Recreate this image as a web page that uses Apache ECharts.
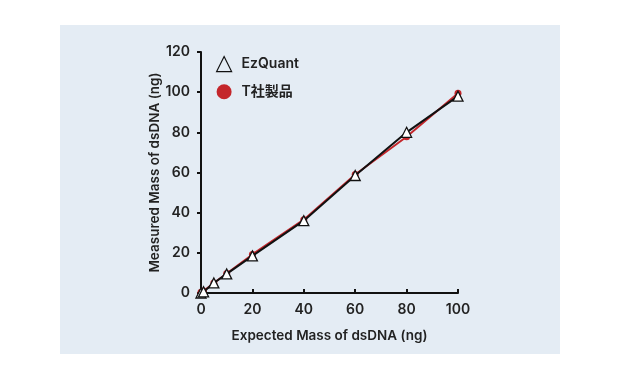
<!DOCTYPE html>
<html><head><meta charset="utf-8">
<script src="https://cdn.jsdelivr.net/npm/echarts@6/dist/echarts.min.js"></script>
<style>html,body{margin:0;padding:0;background:#fff}#c{width:621px;height:381px}</style>
</head><body><div id="c"></div>
<script>
const expected = [0, 1, 5, 10, 20, 40, 60, 80, 100];
const ezQuant = [0, 0.6, 5, 9.5, 18.5, 36, 58.5, 80, 98];
const tProduct = [0.4, 1, 5, 9.7, 19.2, 36.5, 59, 77.8, 99.5];
const seriesNames = ['EzQuant', 'T社製品'];
const xTitle = 'Expected Mass of dsDNA (ng)';
const yTitle = 'Measured Mass of dsDNA (ng)';

const font = 'Inter, "Noto Sans CJK JP", sans-serif';
const txt = '#222';
const chart = echarts.init(document.getElementById('c'), null, {renderer: 'canvas'});
chart.setOption({
  animation: false,
  backgroundColor: '#ffffff',
  graphic: [{type: 'rect', shape: {x: 60, y: 25, width: 500, height: 329}, style: {fill: '#e4ecf4'}, z: -10}],
  grid: {left: 201, right: 163, top: 52, bottom: 88},
  legend: {
    orient: 'vertical', left: 211, top: 51, itemWidth: 15, itemHeight: 15, itemGap: 12,
    textStyle: {fontFamily: font, fontSize: 14, fontWeight: 600, color: txt, padding: [0, 0, 0, 5]},
    data: [
      {name: seriesNames[0], icon: 'triangle', itemStyle: {color: 'transparent', borderColor: '#111', borderWidth: 1.2}},
      {name: seriesNames[1], icon: 'circle', itemStyle: {color: '#c4262b', borderWidth: 0}}
    ]
  },
  xAxis: {
    type: 'value', min: 0, max: 100, interval: 20,
    name: xTitle, nameLocation: 'middle', nameGap: 36,
    nameTextStyle: {fontFamily: font, fontSize: 13.5, fontWeight: 600, color: txt},
    axisLine: {lineStyle: {color: '#111', width: 2}},
    axisTick: {inside: true, length: 4, lineStyle: {color: '#111', width: 2}},
    axisLabel: {fontFamily: font, fontSize: 14, fontWeight: 600, color: txt, margin: 10},
    splitLine: {show: false}
  },
  yAxis: {
    type: 'value', min: 0, max: 120, interval: 20,
    name: yTitle, nameLocation: 'middle', nameGap: 39,
    nameTextStyle: {fontFamily: font, fontSize: 13.5, fontWeight: 600, color: txt},
    axisLine: {show: true, lineStyle: {color: '#111', width: 2}},
    axisTick: {show: true, inside: false, length: 4, lineStyle: {color: '#111', width: 2}},
    axisLabel: {fontFamily: font, fontSize: 14, fontWeight: 600, color: txt, margin: 11},
    splitLine: {show: false}
  },
  series: [
    {
      name: seriesNames[1], type: 'line', z: 2,
      data: expected.map((x, i) => [x, tProduct[i]]),
      symbol: 'circle', symbolSize: 7,
      lineStyle: {color: '#c4262b', width: 2},
      itemStyle: {color: '#c4262b', borderWidth: 0}
    },
    {
      name: seriesNames[0], type: 'line', z: 3,
      data: expected.map((x, i) => [x, ezQuant[i]]),
      symbol: 'triangle', symbolSize: 10,
      lineStyle: {color: '#111', width: 2},
      itemStyle: {color: '#ffffff', borderColor: '#111', borderWidth: 1.3}
    }
  ]
});
</script></body></html>
